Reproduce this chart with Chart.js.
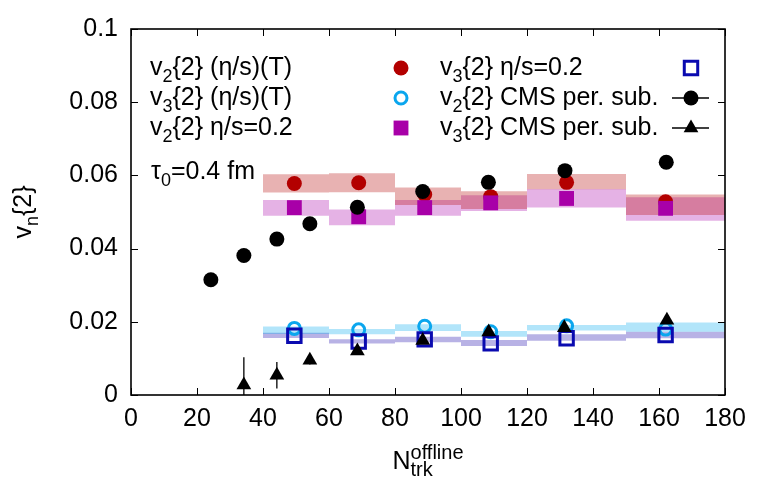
<!DOCTYPE html>
<html><head><meta charset="utf-8">
<script src="https://cdn.jsdelivr.net/npm/chart.js@4/dist/chart.umd.min.js"></script>
<style>html,body{margin:0;padding:0;background:#fff}</style>
</head><body>
<canvas id="c" width="767" height="500" style="width:767px;height:500px;display:block"></canvas>
<script>
// ---- data ----
const xTicks = [0,20,40,60,80,100,120,140,160,180];
const xTickLabels = ['0','20','40','60','80','100','120','140','160','180'];
const yTicks = [0,0.02,0.04,0.06,0.08,0.1];
const yTickLabels = ['0','0.02','0.04','0.06','0.08','0.1'];

const binEdges = [40,60,80,100,120,150,180];
const modelX = [49.5,69,89,109,132,162];

const v2TempVals = [0.0578,0.0580,0.0548,0.0542,0.0581,0.0528];
const v3TempVals = [0.0182,0.0178,0.0188,0.0173,0.0189,0.0180];
const v2FixVals  = [0.0512,0.0487,0.0512,0.0525,0.0537,0.0510];
const v3FixVals  = [0.0162,0.0146,0.0152,0.0141,0.0155,0.0164];

const v2TempLow  = [0.0553,0.0554,0.0519,0.0508,0.0562,0.0492];
const v2TempHigh = [0.0603,0.0606,0.0567,0.0557,0.0604,0.0548];
const v2FixLow   = [0.0490,0.0464,0.0490,0.0503,0.0512,0.0476];
const v2FixHigh  = [0.0533,0.0507,0.0533,0.0546,0.0563,0.0540];
const v3TempLow  = [0.0167,0.0166,0.0175,0.0159,0.0176,0.0173];
const v3TempHigh = [0.0187,0.0180,0.0193,0.0175,0.0191,0.0198];
const v3FixLow   = [0.0156,0.0141,0.0144,0.0134,0.0148,0.0155];
const v3FixHigh  = [0.0170,0.0152,0.0159,0.0150,0.0166,0.0173];

const v2CmsX = [24.2,34.2,44.2,54.2,68.6,88.4,108.3,131.5,162.2];
const v2CmsVals = [0.0315,0.0381,0.0426,0.0468,0.0513,0.0556,0.0581,0.0613,0.0636];
const v3CmsX = [34.2,44.2,54.2,68.6,88.4,108.4,131.3,162.4];
const v3CmsVals = [0.0027,0.0054,0.0095,0.0120,0.0149,0.0172,0.0184,0.0204];
const v3CmsErr  = [0.0076,0.0036,0.0012,0.0006,0.0006,0.0006,0.0006,0.0006];

const legendLeft = [
  ['v',{sub:'2'},'{2} (η/s)(T)'],
  ['v',{sub:'3'},'{2} (η/s)(T)'],
  ['v',{sub:'2'},'{2} η/s=0.2']
];
const legendRight = [
  ['v',{sub:'3'},'{2} η/s=0.2'],
  ['v',{sub:'2'},'{2} CMS per. sub.'],
  ['v',{sub:'3'},'{2} CMS per. sub.']
];
const tauText = ['τ',{sub:'0'},'=0.4 fm'];
const xTitle = ['N',{sub:'trk',sup:'offline'}];
const yTitle = ['v',{sub:'n'},'{2}'];

// ---- helpers ----
const FAM = '"Liberation Sans", Arial, Helvetica, sans-serif';
const FS = 25;
function pts(xs, ys){ return xs.map((x,i)=>({x:x,y:ys[i]})); }
function stepPts(vals){
  const d = [];
  vals.forEach((v,i)=>{ d.push({x:binEdges[i], y:v}); d.push({x:binEdges[i+1], y:v}); });
  return d;
}
function band(low, high, color, order){
  return [
    {type:'line', data:stepPts(low), borderColor:'rgba(0,0,0,0)', borderWidth:0, pointRadius:0, tension:0, fill:false, order:order},
    {type:'line', data:stepPts(high), borderColor:'rgba(0,0,0,0)', borderWidth:0, pointRadius:0, tension:0, fill:'-1', backgroundColor:color, order:order}
  ];
}
function drawRich(ctx, segs, x, y, size, align, scriptScale){
  const f = s => s+'px '+FAM;
  const ss = size*(scriptScale||0.72);
  let w = 0; const items = [];
  for (const sg of segs){
    if (typeof sg === 'string'){ ctx.font=f(size); items.push({t:sg,dx:w,dy:0,f:f(size)}); w += ctx.measureText(sg).width; }
    else { ctx.font=f(ss); let mw=0;
      if (sg.sub){ items.push({t:sg.sub,dx:w,dy:size*0.28,f:f(ss)}); mw=Math.max(mw,ctx.measureText(sg.sub).width); }
      if (sg.sup){ items.push({t:sg.sup,dx:w,dy:-size*0.42,f:f(ss)}); mw=Math.max(mw,ctx.measureText(sg.sup).width); }
      w += mw; }
  }
  const x0 = align==='center' ? x-w/2 : (align==='right' ? x-w : x);
  ctx.textAlign='left'; ctx.textBaseline='alphabetic'; ctx.fillStyle='#000';
  for (const it of items){ ctx.font=it.f; ctx.fillText(it.t, x0+it.dx, y+it.dy); }
  return w;
}

const styles = {
  v2T:{pointStyle:'circle', radius:7.5, bg:'#b30000', border:'#b30000', bw:0},
  v3T:{pointStyle:'circle', radius:6, bg:'rgba(0,0,0,0)', border:'#0aa6ee', bw:3},
  v2F:{pointStyle:'rect', radius:10.5, bg:'#a800a8', border:'#a800a8', bw:0},
  v3F:{pointStyle:'rect', radius:9.5, bg:'rgba(0,0,0,0)', border:'#0a0ab0', bw:3},
  v2C:{pointStyle:'circle', radius:7.5, bg:'#000', border:'#000', bw:0},
  v3C:{pointStyle:'triangle', radius:8.5, bg:'#000', border:'#000', bw:0}
};
function scatter(data, st, order){
  return {type:'scatter', data:data, showLine:false, pointStyle:st.pointStyle, pointRadius:st.radius, pointHoverRadius:st.radius,
    backgroundColor:st.bg, borderColor:st.border, borderWidth:st.bw, order:order};
}

const datasets = [
  ...band(v2FixLow, v2FixHigh, 'rgba(170,0,170,0.30)', 20),
  ...band(v2TempLow, v2TempHigh, 'rgba(180,0,0,0.30)', 19),
  ...band(v3FixLow, v3FixHigh, 'rgba(20,0,170,0.30)', 18),
  ...band(v3TempLow, v3TempHigh, 'rgba(0,170,240,0.30)', 17),
  scatter(pts(modelX, v2TempVals), styles.v2T, 10),
  scatter(pts(modelX, v3TempVals), styles.v3T, 9),
  scatter(pts(modelX, v2FixVals), styles.v2F, 8),
  scatter(pts(modelX, v3FixVals), styles.v3F, 7),
  scatter(pts(v2CmsX, v2CmsVals), styles.v2C, 6),
  scatter(pts(v3CmsX, v3CmsVals), styles.v3C, 5)
];

const framePlugin = {
  id:'frame',
  beforeDatasetsDraw(chart){
    const {ctx, chartArea:a, scales:{x,y}} = chart;
    ctx.save();
    ctx.beginPath(); ctx.rect(a.left,a.top,a.right-a.left,a.bottom-a.top); ctx.clip();
    ctx.strokeStyle='#000'; ctx.lineWidth=1.3;
    v3CmsX.forEach((xv,i)=>{
      const px = x.getPixelForValue(xv);
      ctx.beginPath();
      ctx.moveTo(px, y.getPixelForValue(v3CmsVals[i]-v3CmsErr[i]));
      ctx.lineTo(px, y.getPixelForValue(v3CmsVals[i]+v3CmsErr[i]));
      ctx.stroke();
    });
    ctx.restore();
  },
  afterDraw(chart){
    const {ctx, chartArea:a, scales:{x,y}} = chart;
    ctx.save();
    ctx.strokeStyle='#000'; ctx.lineWidth=1;
    const L=7;
    xTicks.forEach(v=>{ const p=Math.round(x.getPixelForValue(v))+0.5;
      ctx.beginPath(); ctx.moveTo(p,a.bottom); ctx.lineTo(p,a.bottom-L); ctx.moveTo(p,a.top); ctx.lineTo(p,a.top+L); ctx.stroke(); });
    yTicks.forEach(v=>{ const p=Math.round(y.getPixelForValue(v))+0.5;
      ctx.beginPath(); ctx.moveTo(a.left,p); ctx.lineTo(a.left+L,p); ctx.moveTo(a.right,p); ctx.lineTo(a.right-L,p); ctx.stroke(); });
    ctx.lineWidth=1.6;
    ctx.strokeRect(a.left, a.top, a.right-a.left, a.bottom-a.top);
    // titles
    drawRich(ctx, xTitle, (a.left+a.right)/2, 469, FS, 'center', 0.8);
    ctx.save(); ctx.translate(31,(a.top+a.bottom)/2); ctx.rotate(-Math.PI/2);
    drawRich(ctx, yTitle, 0, 0, FS, 'center'); ctx.restore();
    // legend
    const rows=[68,98,128];
    const leftStyles=[styles.v2T, styles.v3T, styles.v2F];
    const rightStyles=[styles.v3F, styles.v2C, styles.v3C];
    legendLeft.forEach((s,i)=>{ drawRich(ctx, s, 150, rows[i]+7, FS, 'left');
      const st=leftStyles[i];
      ctx.fillStyle=st.bg; ctx.strokeStyle=st.border; ctx.lineWidth=st.bw;
      Chart.helpers.drawPoint(ctx,{pointStyle:st.pointStyle,radius:st.radius,borderWidth:st.bw,rotation:0},401,rows[i]); });
    legendRight.forEach((s,i)=>{ drawRich(ctx, s, 440, rows[i]+7, FS, 'left');
      const st=rightStyles[i];
      if (i>0){ ctx.strokeStyle='#000'; ctx.lineWidth=1.3; ctx.beginPath(); ctx.moveTo(672,rows[i]); ctx.lineTo(709,rows[i]); ctx.stroke(); }
      ctx.fillStyle=st.bg; ctx.strokeStyle=st.border; ctx.lineWidth=st.bw;
      Chart.helpers.drawPoint(ctx,{pointStyle:st.pointStyle,radius:st.radius,borderWidth:st.bw,rotation:0},691,rows[i]); });
    drawRich(ctx, tauText, 151, 179, FS, 'left');
    ctx.restore();
  }
};

new Chart(document.getElementById('c'), {
  type:'scatter',
  data:{datasets:datasets},
  options:{
    responsive:false, animation:false, devicePixelRatio:1,
    layout:{padding:{left:0,top:29,right:42,bottom:0}},
    plugins:{legend:{display:false}, tooltip:{enabled:false}},
    scales:{
      x:{type:'linear', min:0, max:180,
        afterBuildTicks:s=>{ s.ticks = xTicks.map(v=>({value:v})); },
        afterFit:s=>{ s.height = 105; },
        grid:{display:false, drawTicks:false}, border:{display:false},
        ticks:{padding:9, color:'#000', font:{family:FAM,size:FS}, maxRotation:0, autoSkip:false,
          callback:(v,i)=>xTickLabels[i]}},
      y:{type:'linear', min:0, max:0.1,
        afterBuildTicks:s=>{ s.ticks = yTicks.map(v=>({value:v})); },
        afterFit:s=>{ s.width = 131; },
        grid:{display:false, drawTicks:false}, border:{display:false},
        ticks:{padding:13, color:'#000', font:{family:FAM,size:FS}, autoSkip:false,
          callback:(v,i)=>yTickLabels[i]}}
    }
  },
  plugins:[framePlugin]
});
</script>
</body></html>
